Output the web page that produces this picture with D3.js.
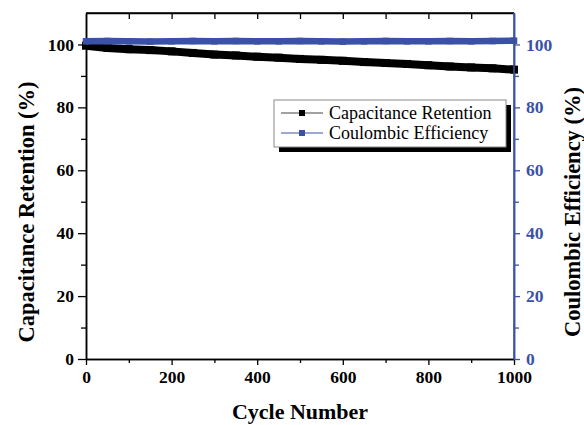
<!DOCTYPE html>
<html>
<head>
<meta charset="utf-8">
<script src="https://cdn.jsdelivr.net/npm/d3@7"></script>
<style>
  body { margin: 0; background: #fff; }
  text { font-family: "Liberation Serif", "Times New Roman", serif; }
</style>
</head>
<body>
<svg id="chart" width="584" height="425"></svg>
<script>
// cycle numbers sampled along the curve
var cycles = [0, 50, 100, 150, 200, 250, 300, 350, 400, 450, 500,
              550, 600, 650, 700, 750, 800, 850, 900, 950, 1000];
// capacitance retention (%)
var retention = [99.6, 98.9, 98.5, 98.2, 97.8, 97.3, 96.8, 96.5, 96.1, 95.8, 95.4,
                 95.1, 94.8, 94.4, 94.1, 93.8, 93.4, 93.0, 92.7, 92.4, 92.0];
// coulombic efficiency (%)
var efficiency = [101.0, 101.1, 101.0, 100.9, 101.0, 101.1, 101.0, 101.1, 101.0, 101.0, 101.1,
                  101.0, 100.9, 101.0, 101.1, 101.0, 101.0, 101.1, 101.0, 101.1, 101.2];
var xTicks = [0, 200, 400, 600, 800, 1000];
var yTicks = [0, 20, 40, 60, 80, 100];
var legendNames = ["Capacitance Retention", "Coulombic Efficiency"];

var blue = "#3a52a6";
var mLeft = 86, mRight = 514, mTop = 13, mBottom = 359;

var svg = d3.select("#chart");
var x = d3.scaleLinear().domain([0, 1000]).range([mLeft, mRight]);
var y = d3.scaleLinear().domain([0, 110]).range([mBottom, mTop]);
var fmt = d3.format("d");

// bottom axis
svg.append("g").attr("transform", "translate(0," + mBottom + ")")
  .call(d3.axisBottom(x).tickValues(xTicks).tickFormat(fmt).tickSize(6).tickPadding(6).tickSizeOuter(0));
svg.append("g").attr("transform", "translate(0," + mBottom + ")")
  .call(d3.axisBottom(x).tickValues(d3.range(100, 1000, 200)).tickSize(4).tickFormat("").tickSizeOuter(0));
// top axis, ticks inward
svg.append("g").attr("transform", "translate(0," + mTop + ")")
  .call(d3.axisBottom(x).tickValues(d3.range(100, 1000, 100)).tickSize(6).tickFormat("").tickSizeOuter(0));
// left axis
svg.append("g").attr("transform", "translate(" + mLeft + ",0)")
  .call(d3.axisLeft(y).tickValues(yTicks).tickFormat(fmt).tickSize(8).tickPadding(4).tickSizeOuter(0));
svg.append("g").attr("transform", "translate(" + mLeft + ",0)")
  .call(d3.axisLeft(y).tickValues([10, 30, 50, 70, 90]).tickSize(5).tickFormat("").tickSizeOuter(0));
// right axis, blue
svg.append("g").attr("class", "raxis").attr("transform", "translate(" + mRight + ",0)")
  .call(d3.axisRight(y).tickValues(yTicks).tickFormat(fmt).tickSize(6).tickPadding(6).tickSizeOuter(0));
svg.append("g").attr("class", "raxis").attr("transform", "translate(" + mRight + ",0)")
  .call(d3.axisRight(y).tickValues([10, 30, 50, 70, 90]).tickSize(5).tickFormat("").tickSizeOuter(0));

svg.selectAll(".domain").attr("stroke", "#000").attr("stroke-width", 1.5);
svg.selectAll(".tick line").attr("stroke", "#000").attr("stroke-width", 1.3);
svg.selectAll(".tick text").attr("font-size", 17.5).attr("font-weight", "bold")
  .style("font-family", "'Liberation Serif', serif").attr("fill", "#000");
svg.selectAll(".raxis .domain").attr("stroke", blue);
svg.selectAll(".raxis .tick line").attr("stroke", blue);
svg.selectAll(".raxis .tick text").attr("fill", blue);

// data
var retData = cycles.map(function (c, i) { return { x: c, y: retention[i] }; });
var effData = cycles.map(function (c, i) { return { x: c, y: efficiency[i] }; });
var line = d3.line().x(function (d) { return x(d.x); }).y(function (d) { return y(d.y); });

svg.append("path").datum(retData).attr("d", line)
  .attr("fill", "none").attr("stroke", "#000").attr("stroke-width", 8);
svg.selectAll(".rm").data(retData).enter().append("rect")
  .attr("x", function (d) { return x(d.x) - 4; })
  .attr("y", function (d) { return y(d.y) - 4; })
  .attr("width", 8).attr("height", 8).attr("fill", "#000");

svg.append("path").datum(effData).attr("d", line)
  .attr("fill", "none").attr("stroke", blue).attr("stroke-width", 6.5);
svg.selectAll(".em").data(effData).enter().append("rect")
  .attr("x", function (d) { return x(d.x) - 3.25; })
  .attr("y", function (d) { return y(d.y) - 3.25; })
  .attr("width", 6.5).attr("height", 6.5).attr("fill", blue);

// redraw frame lines on top
svg.append("line").attr("x1", mLeft).attr("x2", mRight).attr("y1", mTop).attr("y2", mTop)
  .attr("stroke", "#000").attr("stroke-width", 1.5);
svg.append("line").attr("x1", mRight).attr("x2", mRight).attr("y1", mTop).attr("y2", mBottom)
  .attr("stroke", blue).attr("stroke-width", 1.5);

// legend
var lg = svg.append("g");
lg.append("rect").attr("x", 279).attr("y", 105).attr("width", 232).attr("height", 47).attr("fill", "#000");
lg.append("rect").attr("x", 274).attr("y", 100).attr("width", 232).attr("height", 47)
  .attr("fill", "#fff").attr("stroke", "#888").attr("stroke-width", 1);
var lcolors = ["#000", blue];
legendNames.forEach(function (name, i) {
  var ly = 113 + i * 20;
  lg.append("line").attr("x1", 281).attr("x2", 323).attr("y1", ly).attr("y2", ly)
    .attr("stroke", i === 0 ? "#444" : blue).attr("stroke-width", 1);
  lg.append("rect").attr("x", 299).attr("y", ly - 3).attr("width", 6).attr("height", 6).attr("fill", lcolors[i]);
  lg.append("text").attr("x", 329).attr("y", ly + 6).attr("font-size", 18).text(name);
});

// axis titles
svg.append("text").attr("x", (mLeft + mRight) / 2).attr("y", 419).attr("text-anchor", "middle")
  .attr("font-size", 22).attr("font-weight", "bold").text("Cycle Number");
svg.append("text").attr("transform", "translate(34,212) rotate(-90)")
  .attr("text-anchor", "middle").attr("font-size", 22.5).attr("font-weight", "bold")
  .text("Capacitance Retention (%)");
svg.append("text").attr("transform", "translate(580,212) rotate(-90)")
  .attr("text-anchor", "middle").attr("font-size", 22.5).attr("font-weight", "bold")
  .text("Coulombic Efficiency (%)");
</script>
</body>
</html>
